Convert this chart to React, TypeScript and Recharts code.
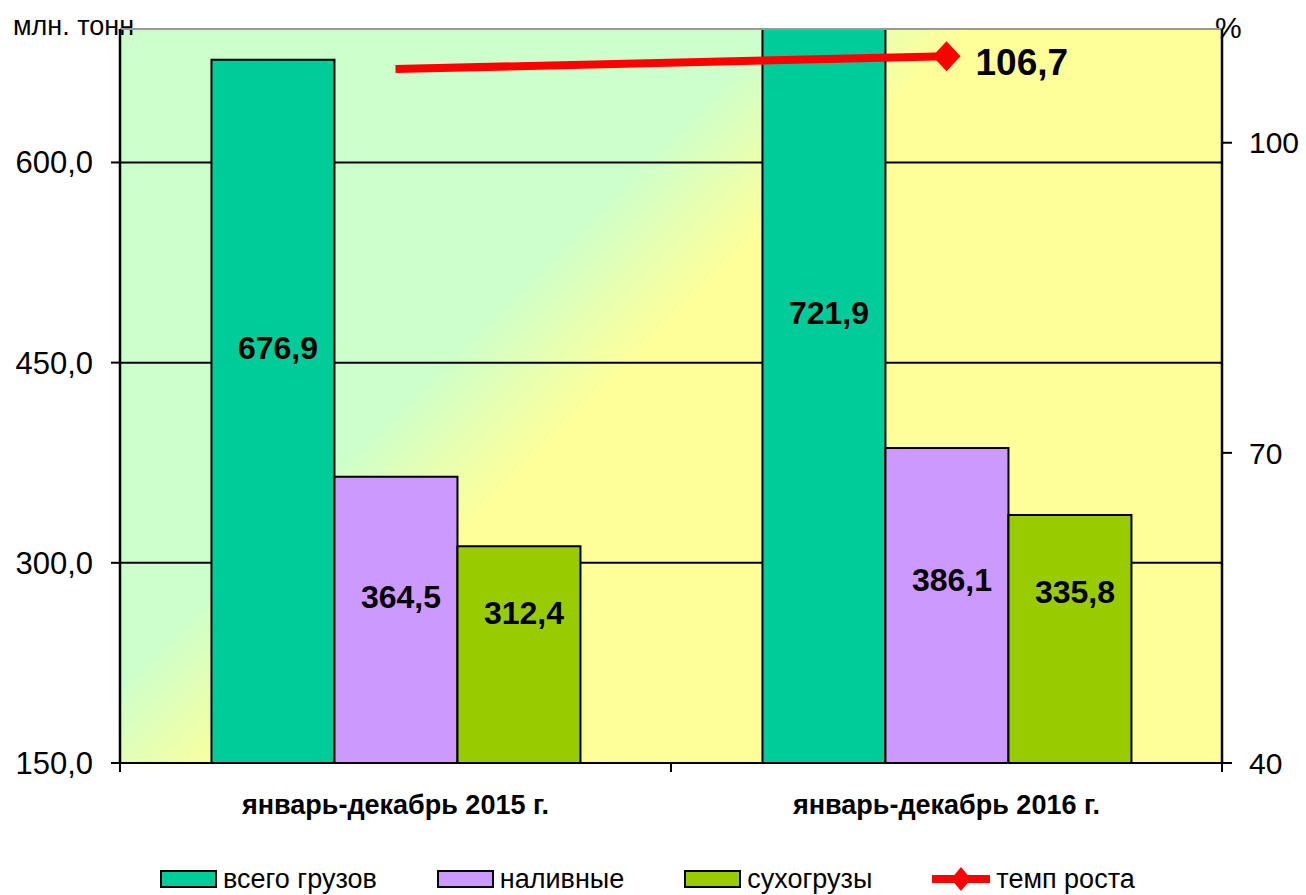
import React from 'react';
import {
  ComposedChart,
  Bar,
  Line,
  XAxis,
  YAxis,
  CartesianGrid,
  Legend,
  LabelList,
  ReferenceLine,
} from 'recharts';

// Chart data
const periods = ['январь-декабрь 2015 г.', 'январь-декабрь 2016 г.'];
const totalCargo = [676.9, 721.9];
const liquidCargo = [364.5, 386.1];
const dryCargo = [312.4, 335.8];
const growthRate = [105.7, 106.7];
const leftTicks = [150, 300, 450, 600];
const rightTicks = [40, 70, 100];

const data = periods.map((period, i) => ({
  period,
  total: totalCargo[i],
  liquid: liquidCargo[i],
  dry: dryCargo[i],
  rate: growthRate[i],
}));

const FONT = '"Liberation Sans", Arial, sans-serif';
const WIDTH = 1306;
const HEIGHT = 895;
const LEFT_W = 120;
const RIGHT_W = 84;
const HALF_BAND = (WIDTH - LEFT_W - RIGHT_W) / periods.length / 2;

const fmt = (v: number) => v.toFixed(1).replace('.', ',');

// label inside bar, placed at a fraction of the bar height
const barLabel = (k: number) => (props: any) => {
  const { x, y, width, height, value } = props;
  return (
    <text
      x={x + width / 2 + 5}
      y={y + height * k}
      textAnchor="middle"
      dominantBaseline="central"
      fontFamily={FONT}
      fontWeight="bold"
      fontSize={32}
      fill="#000"
    >
      {fmt(value)}
    </text>
  );
};

const rateLabel = (props: any) => {
  const { x, y, value, index } = props;
  if (index !== growthRate.length - 1) return null;
  return (
    <text
      x={x + 29}
      y={y + 6}
      dominantBaseline="central"
      fontFamily={FONT}
      fontWeight="bold"
      fontSize={37}
      fill="#000"
    >
      {fmt(value)}
    </text>
  );
};

const RateDot = (props: any) => {
  const { cx, cy, index } = props;
  if (index !== growthRate.length - 1) return null;
  return (
    <polygon
      key={`dot-${index}`}
      points={`${cx},${cy - 15} ${cx + 14},${cy} ${cx},${cy + 15} ${cx - 14},${cy}`}
      fill="#FF0000"
    />
  );
};

const CategoryTick = (props: any) => {
  const { x, y, payload, index } = props;
  return (
    <g>
      <line x1={x - HALF_BAND} y1={y} x2={x - HALF_BAND} y2={y + 9} stroke="#000" strokeWidth={2} />
      {index === periods.length - 1 && (
        <line x1={x + HALF_BAND} y1={y} x2={x + HALF_BAND} y2={y + 9} stroke="#000" strokeWidth={2} />
      )}
      <text
        x={x}
        y={y + 42}
        textAnchor="middle"
        dominantBaseline="central"
        fontFamily={FONT}
        fontWeight="bold"
        fontSize={27}
        fill="#000"
      >
        {payload.value}
      </text>
    </g>
  );
};

const renderLegend = (props: any) => {
  const { payload } = props;
  return (
    <div
      style={{
        display: 'flex',
        alignItems: 'center',
        gap: 60,
        paddingLeft: 160,
        height: 40,
        fontFamily: FONT,
        fontSize: 27,
        color: '#000',
      }}
    >
      {payload.map((entry: any) => (
        <div key={entry.value} style={{ display: 'flex', alignItems: 'center' }}>
          {entry.type === 'line' ? (
            <svg width={58} height={26} style={{ marginRight: 6 }}>
              <line x1={0} y1={13} x2={58} y2={13} stroke={entry.color} strokeWidth={8} />
              <polygon points="29,1 39,13 29,25 19,13" fill={entry.color} />
            </svg>
          ) : (
            <div
              style={{
                width: 53,
                height: 14,
                background: entry.color,
                border: '2px solid #000',
                marginRight: 6,
              }}
            />
          )}
          <span>{entry.value}</span>
        </div>
      ))}
    </div>
  );
};

const App: React.FC = () => {
  return (
    <div style={{ position: 'absolute', left: 0, top: 0, background: '#fff' }}>
      <ComposedChart
        width={WIDTH}
        height={HEIGHT}
        data={data}
        margin={{ top: 29, right: 0, bottom: 0, left: 0 }}
        barGap={0}
        barCategoryGap="16.6%"
      >
        <defs>
          <linearGradient id="plotBg" gradientUnits="userSpaceOnUse" x1={400} y1={400} x2={500} y2={500}>
            <stop offset="0%" stopColor="#CCFFCC" />
            <stop offset="100%" stopColor="#FFFF99" />
          </linearGradient>
        </defs>
        <CartesianGrid
          yAxisId="left"
          vertical={false}
          stroke="#000"
          strokeWidth={2}
          fill="url(#plotBg)"
          fillOpacity={1}
        />
        <ReferenceLine yAxisId="left" y={700} stroke="#999" strokeWidth={2} />
        <XAxis
          dataKey="period"
          height={92}
          interval={0}
          tickSize={0}
          tickMargin={0}
          tickLine={false}
          axisLine={{ stroke: '#000', strokeWidth: 2 }}
          tick={<CategoryTick />}
        />
        <YAxis
          yAxisId="left"
          width={LEFT_W}
          domain={[150, 700]}
          ticks={leftTicks}
          allowDataOverflow
          tickFormatter={fmt}
          tickSize={9}
          tickMargin={18}
          axisLine={{ stroke: '#000', strokeWidth: 2.5 }}
          tickLine={{ stroke: '#000', strokeWidth: 2 }}
          tick={{ fontSize: 31, fill: '#000', fontFamily: FONT }}
        />
        <YAxis
          yAxisId="right"
          orientation="right"
          width={RIGHT_W}
          domain={[40, 111]}
          ticks={rightTicks}
          allowDataOverflow
          tickSize={10}
          tickMargin={17}
          axisLine={{ stroke: '#000', strokeWidth: 2.5 }}
          tickLine={{ stroke: '#000', strokeWidth: 2 }}
          tick={{ fontSize: 30, fill: '#000', fontFamily: FONT }}
        />
        <YAxis yAxisId="rate" hide domain={[52, 108.8]} allowDataOverflow />
        <Bar yAxisId="left" dataKey="total" name="всего грузов" fill="#00CC99" stroke="#000" strokeWidth={2} isAnimationActive={false}>
          <LabelList dataKey="total" content={barLabel(0.41)} />
        </Bar>
        <Bar yAxisId="left" dataKey="liquid" name="наливные" fill="#CC99FF" stroke="#000" strokeWidth={2} isAnimationActive={false}>
          <LabelList dataKey="liquid" content={barLabel(0.42)} />
        </Bar>
        <Bar yAxisId="left" dataKey="dry" name="сухогрузы" fill="#99CC00" stroke="#000" strokeWidth={2} isAnimationActive={false}>
          <LabelList dataKey="dry" content={barLabel(0.31)} />
        </Bar>
        <Line
          yAxisId="rate"
          dataKey="rate"
          name="темп роста"
          stroke="#FF0000"
          strokeWidth={8}
          dot={<RateDot />}
          activeDot={false}
          isAnimationActive={false}
        >
          <LabelList dataKey="rate" content={rateLabel} />
        </Line>
        <Legend
          verticalAlign="bottom"
          content={renderLegend}
          wrapperStyle={{ left: 0, top: 859, bottom: 'auto', width: WIDTH, height: 40 }}
        />
        <text x={13} y={35} fontFamily={FONT} fontSize={27} fill="#000">
          млн. тонн
        </text>
        <text x={1215} y={38} fontFamily={FONT} fontSize={30} fill="#000">
          %
        </text>
      </ComposedChart>
    </div>
  );
};

export default App;
